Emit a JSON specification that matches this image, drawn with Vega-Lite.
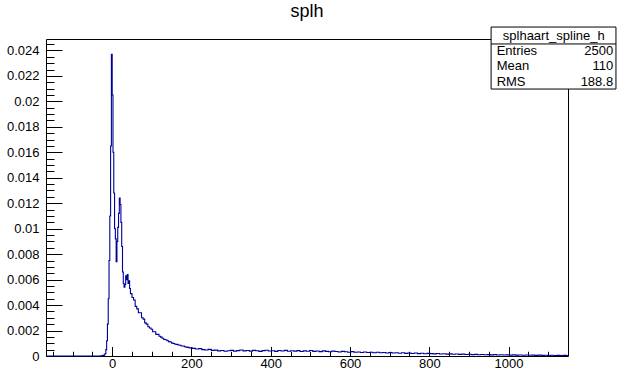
{
  "$schema": "https://vega.github.io/schema/vega-lite/v6.json",
  "autosize": {"type": "none"},
  "width": 522,
  "height": 317,
  "padding": {"left": 46, "top": 39, "right": 49, "bottom": 16},
  "background": "white",
  "config": {
    "view": {"stroke": null},
    "font": "Liberation Sans",
    "axis": {"domainColor": "black", "tickColor": "black", "labelColor": "black", "labelFont": "Liberation Sans", "labelFontSize": 13, "title": null, "grid": false, "domainWidth": 1, "tickWidth": 1}
  },
  "title": {"text": "splh", "fontSize": 18, "font": "Liberation Sans", "fontWeight": "normal", "color": "black", "anchor": "middle", "baseline": "alphabetic", "offset": 8, "dy": 16},
  "datasets": {
    "hist": [
      {"x": -167, "y": 0}, {"x": -40, "y": 0}, {"x": -30, "y": 0.00002}, {"x": -24, "y": 0.00005}, {"x": -20, "y": 0.0001},
      {"x": -18, "y": 0.0002}, {"x": -16, "y": 0.0005}, {"x": -14, "y": 0.0012}, {"x": -12, "y": 0.0025}, {"x": -10, "y": 0.0045},
      {"x": -8, "y": 0.0075}, {"x": -6, "y": 0.011}, {"x": -4, "y": 0.0165}, {"x": -2, "y": 0.0237}, {"x": 0, "y": 0.0205},
      {"x": 2, "y": 0.016}, {"x": 4, "y": 0.0128}, {"x": 6, "y": 0.01}, {"x": 8, "y": 0.0092}, {"x": 10, "y": 0.0074},
      {"x": 12, "y": 0.009}, {"x": 14, "y": 0.0101}, {"x": 16, "y": 0.0112}, {"x": 18, "y": 0.0124}, {"x": 20, "y": 0.0119},
      {"x": 22, "y": 0.0105}, {"x": 24, "y": 0.0086}, {"x": 26, "y": 0.0066}, {"x": 28, "y": 0.0057}, {"x": 30, "y": 0.0054},
      {"x": 32, "y": 0.0056}, {"x": 34, "y": 0.0063}, {"x": 36, "y": 0.006}, {"x": 38, "y": 0.0064}, {"x": 40, "y": 0.0057},
      {"x": 42, "y": 0.0059}, {"x": 44, "y": 0.0053}, {"x": 46, "y": 0.0049}, {"x": 50, "y": 0.0046}, {"x": 54, "y": 0.0044},
      {"x": 58, "y": 0.0039}, {"x": 62, "y": 0.0037}, {"x": 66, "y": 0.0034}, {"x": 70, "y": 0.0034}, {"x": 74, "y": 0.003},
      {"x": 78, "y": 0.0029}, {"x": 82, "y": 0.0026}, {"x": 86, "y": 0.0025}, {"x": 90, "y": 0.0023}, {"x": 94, "y": 0.0022},
      {"x": 98, "y": 0.0021}, {"x": 102, "y": 0.0019}, {"x": 106, "y": 0.0019}, {"x": 110, "y": 0.0017}, {"x": 114, "y": 0.0017},
      {"x": 118, "y": 0.00155}, {"x": 122, "y": 0.00148}, {"x": 126, "y": 0.0014}, {"x": 130, "y": 0.0013}, {"x": 134, "y": 0.00128},
      {"x": 138, "y": 0.0012}, {"x": 142, "y": 0.00113}, {"x": 146, "y": 0.0011}, {"x": 150, "y": 0.00101}, {"x": 154, "y": 0.00098},
      {"x": 158, "y": 0.00092}, {"x": 162, "y": 0.00091}, {"x": 166, "y": 0.00086}, {"x": 170, "y": 0.00084}, {"x": 174, "y": 0.00079},
      {"x": 178, "y": 0.00078}, {"x": 182, "y": 0.00073}, {"x": 186, "y": 0.0007}, {"x": 190, "y": 0.00068}, {"x": 194, "y": 0.00063},
      {"x": 198, "y": 0.00064}, {"x": 202, "y": 0.0006}, {"x": 210, "y": 0.00055}, {"x": 218, "y": 0.00058}, {"x": 226, "y": 0.0005},
      {"x": 234, "y": 0.00047}, {"x": 242, "y": 0.00052}, {"x": 250, "y": 0.00044}, {"x": 258, "y": 0.00046}, {"x": 266, "y": 0.0004},
      {"x": 274, "y": 0.00043}, {"x": 282, "y": 0.00037}, {"x": 290, "y": 0.00041}, {"x": 298, "y": 0.00044}, {"x": 306, "y": 0.00038},
      {"x": 314, "y": 0.00042}, {"x": 322, "y": 0.00047}, {"x": 330, "y": 0.0004}, {"x": 338, "y": 0.00043}, {"x": 346, "y": 0.00038},
      {"x": 354, "y": 0.00044}, {"x": 362, "y": 0.00041}, {"x": 370, "y": 0.00036}, {"x": 378, "y": 0.00042}, {"x": 386, "y": 0.00045},
      {"x": 394, "y": 0.00039}, {"x": 402, "y": 0.00041}, {"x": 410, "y": 0.00036}, {"x": 418, "y": 0.00043}, {"x": 426, "y": 0.00039},
      {"x": 434, "y": 0.00044}, {"x": 442, "y": 0.00037}, {"x": 450, "y": 0.00041}, {"x": 458, "y": 0.00038}, {"x": 466, "y": 0.00042},
      {"x": 474, "y": 0.00035}, {"x": 482, "y": 0.0004}, {"x": 490, "y": 0.00037}, {"x": 498, "y": 0.00043}, {"x": 506, "y": 0.00036},
      {"x": 514, "y": 0.00039}, {"x": 522, "y": 0.00034}, {"x": 530, "y": 0.0004}, {"x": 538, "y": 0.00036}, {"x": 546, "y": 0.00033},
      {"x": 554, "y": 0.00038}, {"x": 562, "y": 0.00035}, {"x": 570, "y": 0.00031}, {"x": 578, "y": 0.00036}, {"x": 586, "y": 0.00033},
      {"x": 594, "y": 0.0003}, {"x": 602, "y": 0.00034}, {"x": 610, "y": 0.00029}, {"x": 618, "y": 0.00032}, {"x": 626, "y": 0.00028},
      {"x": 634, "y": 0.00031}, {"x": 642, "y": 0.00027}, {"x": 650, "y": 0.0003}, {"x": 658, "y": 0.00026}, {"x": 666, "y": 0.00029},
      {"x": 674, "y": 0.00025}, {"x": 682, "y": 0.00028}, {"x": 690, "y": 0.00024}, {"x": 698, "y": 0.00027}, {"x": 706, "y": 0.00023},
      {"x": 714, "y": 0.00026}, {"x": 722, "y": 0.00022}, {"x": 730, "y": 0.00025}, {"x": 738, "y": 0.00021}, {"x": 746, "y": 0.00024},
      {"x": 754, "y": 0.0002}, {"x": 762, "y": 0.00023}, {"x": 770, "y": 0.00019}, {"x": 778, "y": 0.00022}, {"x": 786, "y": 0.00018},
      {"x": 794, "y": 0.00021}, {"x": 802, "y": 0.00019}, {"x": 810, "y": 0.00017}, {"x": 818, "y": 0.0002}, {"x": 826, "y": 0.00016},
      {"x": 834, "y": 0.00018}, {"x": 842, "y": 0.00015}, {"x": 850, "y": 0.00017}, {"x": 858, "y": 0.00014}, {"x": 866, "y": 0.00016},
      {"x": 874, "y": 0.00013}, {"x": 882, "y": 0.00015}, {"x": 890, "y": 0.00012}, {"x": 898, "y": 0.00014}, {"x": 906, "y": 0.00011},
      {"x": 914, "y": 0.00013}, {"x": 922, "y": 0.0001}, {"x": 930, "y": 0.00012}, {"x": 938, "y": 0.0001}, {"x": 946, "y": 0.00011},
      {"x": 954, "y": 0.00009}, {"x": 962, "y": 0.00011}, {"x": 970, "y": 0.00008}, {"x": 978, "y": 0.0001}, {"x": 986, "y": 0.00008},
      {"x": 994, "y": 0.00009}, {"x": 1002, "y": 0.00007}, {"x": 1010, "y": 0.00009}, {"x": 1018, "y": 0.00007}, {"x": 1026, "y": 0.00008},
      {"x": 1034, "y": 0.00006}, {"x": 1042, "y": 0.00008}, {"x": 1050, "y": 0.00006}, {"x": 1058, "y": 0.00007}, {"x": 1066, "y": 0.00005},
      {"x": 1074, "y": 0.00007}, {"x": 1082, "y": 0.00005}, {"x": 1090, "y": 0.00006}, {"x": 1098, "y": 0.00004}, {"x": 1106, "y": 0.00006},
      {"x": 1114, "y": 0.00004}, {"x": 1122, "y": 0.00005}, {"x": 1130, "y": 0.00004}, {"x": 1138, "y": 0.00005}, {"x": 1146, "y": 0.00003},
      {"x": 1150, "y": 0.00003}
    ],
    "box": [{"name": "splhaart_spline_h"}],
    "stats": [{"k": "Entries", "v": "2500"}, {"k": "Mean", "v": "110"}, {"k": "RMS", "v": "188.8"}]
  },
  "layer": [
    {
      "data": {"name": "hist"},
      "mark": {"type": "line", "interpolate": "step-after", "color": "#000099", "strokeWidth": 1.1},
      "encoding": {
        "x": {"field": "x", "type": "quantitative", "scale": {"domain": [-167, 1150], "nice": false, "zero": false},
              "axis": {"orient": "bottom", "values": [0, 200, 400, 600, 800, 1000], "format": "d", "tickSize": -9.5, "labelPadding": 11}},
        "y": {"field": "y", "type": "quantitative", "scale": {"domain": [0, 0.0249], "nice": false, "zero": false},
              "axis": {"orient": "left", "values": [0, 0.002, 0.004, 0.006, 0.008, 0.01, 0.012, 0.014, 0.016, 0.018, 0.02, 0.022, 0.024], "format": "~g", "tickSize": -16, "labelPadding": 23}}
      }
    },
    {
      "data": {"name": "box"},
      "mark": {"type": "rect", "fill": "white", "stroke": "black", "strokeWidth": 1},
      "encoding": {
        "x": {"datum": 956, "type": "quantitative",
              "axis": {"orient": "bottom", "values": [-150, -100, -50, 0, 50, 100, 150, 200, 250, 300, 350, 400, 450, 500, 550, 600, 650, 700, 750, 800, 850, 900, 950, 1000, 1050, 1100], "tickSize": -4.75, "labels": false, "domain": false}},
        "x2": {"datum": 1271},
        "y": {"datum": 0.02584, "type": "quantitative",
              "axis": {"orient": "left", "values": [0.0005, 0.001, 0.0015, 0.002, 0.0025, 0.003, 0.0035, 0.004, 0.0045, 0.005, 0.0055, 0.006, 0.0065, 0.007, 0.0075, 0.008, 0.0085, 0.009, 0.0095, 0.01, 0.0105, 0.011, 0.0115, 0.012, 0.0125, 0.013, 0.0135, 0.014, 0.0145, 0.015, 0.0155, 0.016, 0.0165, 0.017, 0.0175, 0.018, 0.0185, 0.019, 0.0195, 0.02, 0.0205, 0.021, 0.0215, 0.022, 0.0225, 0.023, 0.0235, 0.024, 0.0245], "tickSize": -8, "labels": false, "domain": false}},
        "y2": {"datum": 0.02097}
      }
    },
    {
      "data": {"name": "box"},
      "mark": {"type": "rule", "color": "black", "strokeWidth": 1},
      "encoding": {
        "x": {"datum": 956, "type": "quantitative", "axis": {"orient": "top", "ticks": false, "labels": false, "domain": true}},
        "x2": {"datum": 1271},
        "y": {"datum": 0.02451, "type": "quantitative", "axis": {"orient": "right", "ticks": false, "labels": false, "domain": true}}
      }
    },
    {
      "data": {"name": "box"},
      "mark": {"type": "text", "fontSize": 13, "align": "center", "baseline": "middle", "color": "black", "font": "Liberation Sans"},
      "encoding": {
        "text": {"field": "name"},
        "x": {"datum": 1114, "type": "quantitative", "axis": null},
        "y": {"datum": 0.02517, "type": "quantitative", "axis": null}
      }
    },
    {
      "data": {"name": "stats"},
      "transform": [{"filter": "datum.k == 'Entries'"}],
      "layer": [
        {"mark": {"type": "text", "fontSize": 13, "align": "left", "baseline": "middle", "color": "black", "font": "Liberation Sans"},
         "encoding": {"text": {"field": "k"}, "x": {"datum": 970, "type": "quantitative", "axis": null}, "y": {"datum": 0.02392, "type": "quantitative", "axis": null}}},
        {"mark": {"type": "text", "fontSize": 13, "align": "right", "baseline": "middle", "color": "black", "font": "Liberation Sans"},
         "encoding": {"text": {"field": "v"}, "x": {"datum": 1264, "type": "quantitative", "axis": null}, "y": {"datum": 0.02392, "type": "quantitative", "axis": null}}}
      ]
    },
    {
      "data": {"name": "stats"},
      "transform": [{"filter": "datum.k == 'Mean'"}],
      "layer": [
        {"mark": {"type": "text", "fontSize": 13, "align": "left", "baseline": "middle", "color": "black", "font": "Liberation Sans"},
         "encoding": {"text": {"field": "k"}, "x": {"datum": 970, "type": "quantitative", "axis": null}, "y": {"datum": 0.02274, "type": "quantitative", "axis": null}}},
        {"mark": {"type": "text", "fontSize": 13, "align": "right", "baseline": "middle", "color": "black", "font": "Liberation Sans"},
         "encoding": {"text": {"field": "v"}, "x": {"datum": 1264, "type": "quantitative", "axis": null}, "y": {"datum": 0.02274, "type": "quantitative", "axis": null}}}
      ]
    },
    {
      "data": {"name": "stats"},
      "transform": [{"filter": "datum.k == 'RMS'"}],
      "layer": [
        {"mark": {"type": "text", "fontSize": 13, "align": "left", "baseline": "middle", "color": "black", "font": "Liberation Sans"},
         "encoding": {"text": {"field": "k"}, "x": {"datum": 970, "type": "quantitative", "axis": null}, "y": {"datum": 0.02156, "type": "quantitative", "axis": null}}},
        {"mark": {"type": "text", "fontSize": 13, "align": "right", "baseline": "middle", "color": "black", "font": "Liberation Sans"},
         "encoding": {"text": {"field": "v"}, "x": {"datum": 1264, "type": "quantitative", "axis": null}, "y": {"datum": 0.02156, "type": "quantitative", "axis": null}}}
      ]
    }
  ],
  "resolve": {"axis": {"x": "independent", "y": "independent"}}
}
